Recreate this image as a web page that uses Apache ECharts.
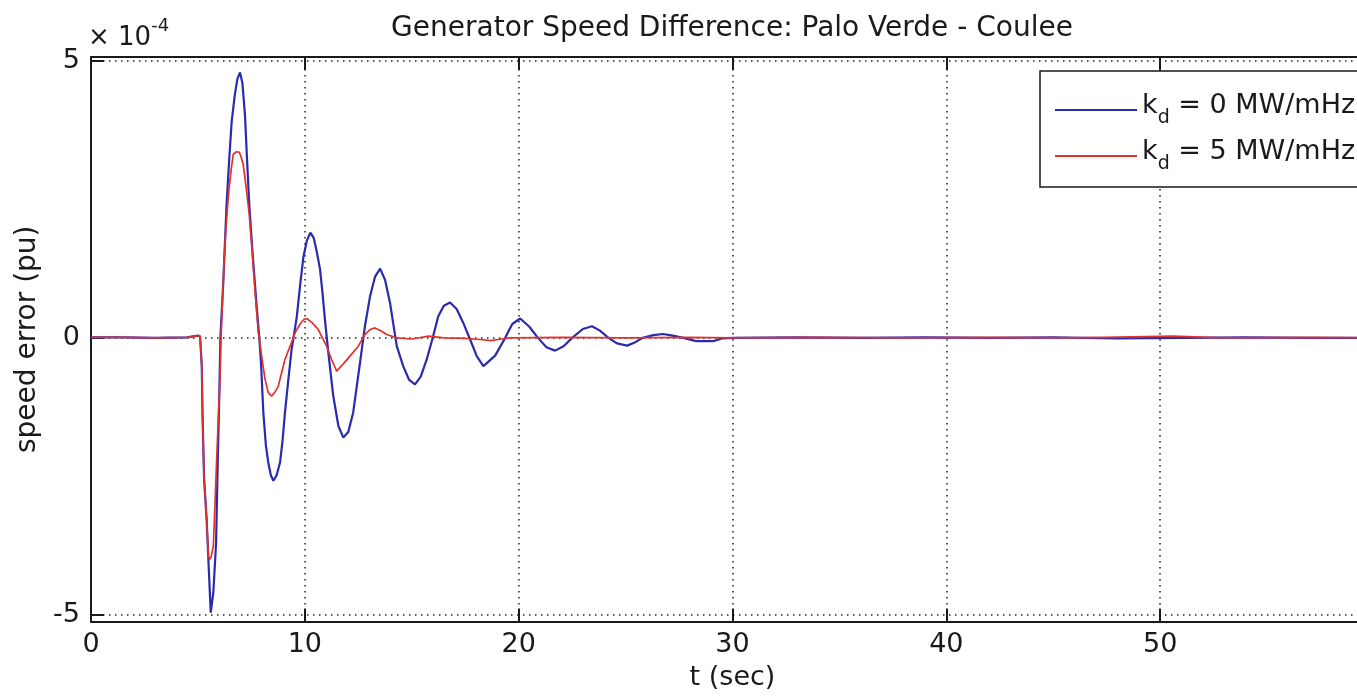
<!DOCTYPE html>
<html>
<head>
<meta charset="utf-8">
<script src="https://cdn.jsdelivr.net/npm/echarts@6/dist/echarts.min.js"></script>
<style>
  html, body { margin: 0; padding: 0; overflow: hidden; background: #fff; }
  #chart { width: 1464px; height: 700px; }
</style>
</head>
<body>
<div id="chart"></div>
<script>
// Speed error of Palo Verde relative to Coulee, in units of 1e-4 pu, vs time (s)
const xTicks = [0, 10, 20, 30, 40, 50, 60];
const yTicks = [-5, 0, 5];
const gainLabels = ['0', '5'];          // k_d values, MW/mHz

// k_d = 0 MW/mHz
const speedErrKd0 = [
  [0,0.01],[1.5,0.01],[3,0.0],[4.5,0.01],[5.0,0.04],[5.1,0.03],[5.18,-0.51],[5.22,-1.47],
  [5.29,-2.55],[5.41,-3.3],[5.5,-4.1],[5.6,-4.96],[5.72,-4.6],[5.85,-3.7],[5.91,-2.55],
  [6.0,-1.05],[6.05,0],[6.19,1.03],[6.34,2.41],[6.46,3.2],[6.58,3.91],[6.73,4.4],[6.85,4.68],
  [6.97,4.79],[7.08,4.6],[7.2,4.03],[7.3,3.2],[7.4,2.41],[7.56,1.51],[7.75,0.55],[7.87,0],
  [7.95,-0.45],[8.06,-1.35],[8.18,-1.95],[8.29,-2.25],[8.41,-2.48],[8.53,-2.58],[8.68,-2.48],
  [8.84,-2.25],[8.96,-1.85],[9.07,-1.35],[9.23,-0.75],[9.38,-0.21],[9.47,0],[9.62,0.37],
  [9.78,0.95],[9.93,1.45],[10.09,1.75],[10.26,1.9],[10.42,1.8],[10.56,1.55],[10.71,1.24],
  [10.83,0.8],[10.94,0.33],[11.1,-0.27],[11.33,-1.05],[11.57,-1.59],[11.8,-1.8],[12.03,-1.7],
  [12.26,-1.35],[12.42,-0.9],[12.58,-0.45],[12.81,0.21],[13.05,0.75],[13.28,1.1],[13.52,1.25],
  [13.75,1.05],[13.98,0.64],[14.3,-0.15],[14.6,-0.51],[14.88,-0.76],[15.15,-0.84],[15.42,-0.7],
  [15.7,-0.39],[16.0,0.03],[16.24,0.39],[16.5,0.58],[16.79,0.64],[17.1,0.52],[17.41,0.27],
  [17.73,-0.03],[18.04,-0.33],[18.35,-0.51],[18.9,-0.32],[19.37,0],[19.7,0.25],[20.07,0.35],
  [20.5,0.2],[20.9,0],[21.3,-0.17],[21.7,-0.23],[22.1,-0.15],[22.5,0],[23.0,0.16],[23.43,0.21],
  [23.8,0.13],[24.2,0],[24.6,-0.1],[25.07,-0.14],[25.4,-0.09],[25.8,0],[26.3,0.05],[26.75,0.07],
  [27.2,0.04],[27.7,0],[28.3,-0.06],[29.1,-0.06],[29.5,-0.01],[30,0],[33,0.01],[36,0],[39,0.01],
  [42,0],[45,0.01],[48,-0.01],[51,0],[54,0.01],[57,0],[60,0]
];

// k_d = 5 MW/mHz
const speedErrKd5 = [
  [0,0.01],[1.5,0.01],[3,0.0],[4.5,0.01],[5.0,0.04],[5.1,0.03],[5.18,-0.51],[5.22,-1.47],
  [5.29,-2.55],[5.41,-3.28],[5.49,-3.94],[5.55,-4.0],[5.62,-3.95],[5.72,-3.76],[5.8,-3.0],
  [5.87,-2.25],[5.95,-1.5],[6.03,-0.75],[6.08,0],[6.17,0.9],[6.27,1.75],[6.37,2.3],[6.46,2.71],
  [6.56,3.05],[6.65,3.31],[6.8,3.36],[6.94,3.35],[7.03,3.25],[7.12,3.13],[7.26,2.7],[7.4,2.23],
  [7.5,1.75],[7.59,1.27],[7.7,0.7],[7.82,0.12],[7.98,-0.33],[8.14,-0.75],[8.29,-0.99],
  [8.45,-1.05],[8.6,-0.98],[8.76,-0.87],[8.92,-0.62],[9.07,-0.39],[9.31,-0.15],[9.54,0.09],
  [9.78,0.25],[9.95,0.33],[10.09,0.35],[10.35,0.27],[10.63,0.15],[10.82,0.0],[11.02,-0.15],
  [11.25,-0.39],[11.49,-0.6],[11.8,-0.47],[12.11,-0.33],[12.5,-0.15],[12.81,0.06],[13.05,0.15],
  [13.28,0.18],[13.55,0.13],[13.83,0.06],[14.3,0.0],[15.0,-0.02],[15.8,0.03],[16.5,0.0],
  [17.5,-0.01],[18.2,-0.03],[18.7,-0.05],[19.2,-0.02],[19.6,0.0],[22,0.01],[25,0],[28,0.01],
  [30,0],[34,0.01],[38,0],[42,0.01],[46,0],[50.6,0.03],[53,0],[57,0.01],[60,0]
];

const FONT = '"DejaVu Sans", "Liberation Sans", Arial, sans-serif';
const INK = '#1a1a1a';
const BLUE = '#2a2ab0';
const RED = '#e0322c';
const gridDots = { color: '#222', width: 1.5, type: [1.5, 4.5] };

const chart = echarts.init(document.getElementById('chart'), null, { renderer: 'canvas' });

const legendNames = gainLabels.map(g => 'kd' + g);

chart.setOption({
  backgroundColor: '#fff',
  animation: false,
  title: {
    text: 'Generator Speed Difference: Palo Verde - Coulee',
    left: 'center',
    top: 10,
    textStyle: { fontFamily: FONT, fontSize: 28, fontWeight: 'normal', color: INK }
  },
  grid: { left: 91, right: 90, top: 57, bottom: 78.5, containLabel: false },
  legend: {
    orient: 'vertical',
    left: 1040,
    top: 71,
    padding: [21, 40, 13, 15],
    itemGap: 10,
    itemWidth: 82,
    itemHeight: 2,
    icon: 'rect',
    backgroundColor: '#fff',
    borderColor: INK,
    borderWidth: 1.5,
    borderRadius: 0,
    data: legendNames,
    formatter: name => '{k|k}{d|d}{t| = ' + name.slice(2) + ' MW/mHz}',
    textStyle: {
      fontFamily: FONT,
      color: INK,
      rich: {
        k: { fontFamily: FONT, fontSize: 27, color: INK, verticalAlign: 'top' },
        d: { fontFamily: FONT, fontSize: 19, color: INK, lineHeight: 36, verticalAlign: 'bottom' },
        t: { fontFamily: FONT, fontSize: 27, color: INK, verticalAlign: 'top' }
      }
    }
  },
  graphic: [{
    type: 'text',
    left: 88,
    top: 17,
    style: {
      text: '{a|× 10}{b|-4}',
      fill: INK,
      rich: {
        a: { fontFamily: FONT, fontSize: 26, fill: INK, verticalAlign: 'bottom', lineHeight: 34 },
        b: { fontFamily: FONT, fontSize: 18, fill: INK, verticalAlign: 'top', lineHeight: 34 }
      }
    }
  }],
  xAxis: [{
    type: 'value',
    position: 'bottom',
    min: 0, max: 60, interval: 10,
    name: 't (sec)',
    nameLocation: 'middle',
    nameGap: 43,
    nameTextStyle: { fontFamily: FONT, fontSize: 27, color: INK },
    axisLine: { show: true, onZero: false, lineStyle: { color: INK, width: 2 } },
    axisTick: { show: true, inside: true, length: 13, lineStyle: { color: INK, width: 2 } },
    axisLabel: {
      fontFamily: FONT, fontSize: 27, color: INK, margin: 10,
      formatter: v => (v === 60 ? '' : String(v))
    },
    splitLine: { show: true, lineStyle: gridDots }
  }, {
    type: 'value',
    position: 'top',
    min: 0, max: 60, interval: 10,
    axisLine: { show: true, onZero: false, lineStyle: { color: INK, width: 2 } },
    axisTick: { show: true, inside: true, length: 13, lineStyle: { color: INK, width: 2 } },
    axisLabel: { show: false },
    splitLine: { show: false }
  }],
  yAxis: [{
    type: 'value',
    position: 'left',
    min: -5.12, max: 5.07,
    name: 'speed error (pu)',
    nameLocation: 'middle',
    nameGap: 48,
    nameTextStyle: { fontFamily: FONT, fontSize: 28, color: INK },
    axisLine: { show: true, onZero: false, lineStyle: { color: INK, width: 2 } },
    axisTick: { show: true, inside: true, length: 13, customValues: yTicks, lineStyle: { color: INK, width: 2 } },
    axisLabel: { fontFamily: FONT, fontSize: 27, color: INK, margin: 11, customValues: yTicks },
    splitLine: { show: true, lineStyle: gridDots }
  }, {
    type: 'value',
    position: 'right',
    min: -5.12, max: 5.07,
    axisLine: { show: true, onZero: false, lineStyle: { color: INK, width: 2 } },
    axisTick: { show: true, inside: true, length: 13, customValues: yTicks, lineStyle: { color: INK, width: 2 } },
    axisLabel: { show: false },
    splitLine: { show: false }
  }],
  series: [{
    name: legendNames[0],
    type: 'line',
    data: speedErrKd0,
    showSymbol: false,
    symbol: 'none',
    lineStyle: { color: BLUE, width: 2.2 },
    itemStyle: { color: BLUE },
    z: 3
  }, {
    name: legendNames[1],
    type: 'line',
    data: speedErrKd5,
    showSymbol: false,
    symbol: 'none',
    lineStyle: { color: RED, width: 1.7 },
    itemStyle: { color: RED },
    z: 4
  }]
});
</script>
</body>
</html>
